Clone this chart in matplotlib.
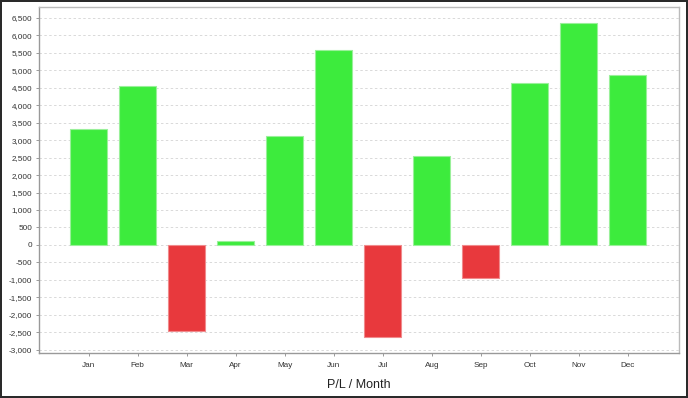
import matplotlib
matplotlib.use("Agg")
import matplotlib.pyplot as plt
from matplotlib.ticker import FuncFormatter, MultipleLocator

months = ["Jan", "Feb", "Mar", "Apr", "May", "Jun", "Jul", "Aug", "Sep", "Oct", "Nov", "Dec"]
pl_values = [3310, 4545, -2460, 110, 3125, 5585, -2620, 2555, -950, 4625, 6365, 4865]

plt.rcParams['font.family'] = ['Liberation Sans', 'DejaVu Sans']

fig = plt.figure(figsize=(6.88, 3.98), dpi=100)
fig.patch.set_facecolor('white')
fig.patch.set_edgecolor('#2a2a2a')
fig.patch.set_linewidth(2.8)

W, H = 688, 398
ax = fig.add_axes([38.7 / W, 1 - 353.3 / H, (679.3 - 38.7) / W, (353.3 - 7.3) / H])

x = list(range(len(months)))
colors = ['#3deb3d' if v >= 0 else '#e8393d' for v in pl_values]
edges = ['#9af09a' if v >= 0 else '#f08a8c' for v in pl_values]
ax.bar(x, pl_values, width=0.76, color=colors, edgecolor=edges, linewidth=0.8, zorder=3)

ax.set_xlim(-1.02, 12.05)
ax.set_ylim(-3100, 6800)
ax.yaxis.set_major_locator(MultipleLocator(500))
ax.yaxis.set_major_formatter(FuncFormatter(lambda v, p: f"{int(v):,}"))
ax.set_xticks(x)
ax.set_xticklabels(months)

ax.grid(axis='y', color='#d9d9d9', linestyle=(0, (2.5, 2.5)), linewidth=0.7, zorder=0)
for s in ['left', 'bottom']:
    ax.spines[s].set_color('#999999')
    ax.spines[s].set_linewidth(1.0)
for s in ['top', 'right']:
    ax.spines[s].set_color('#bbbbbb')
    ax.spines[s].set_linewidth(1.0)

ax.tick_params(axis='both', labelsize=5.9, colors='#999999', labelcolor='#333333', length=2.5, width=0.7, pad=2)
ax.tick_params(axis='x', pad=4)

ax.set_xlabel("P/L / Month", fontsize=9, color='#222222', labelpad=7)

fig.savefig("out.png", dpi=100, facecolor=fig.get_facecolor(), edgecolor=fig.get_edgecolor())
